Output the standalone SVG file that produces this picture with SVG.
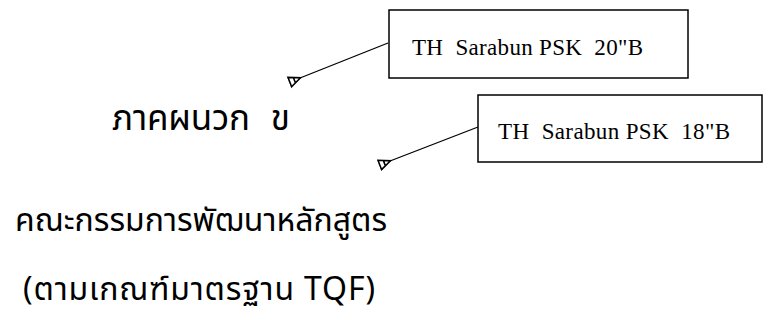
<svg xmlns="http://www.w3.org/2000/svg" width="783" height="324" viewBox="0 0 783 324">
<style>
.box{fill:#fff;stroke:#000;stroke-width:1.5}
.lbl{font-family:"Liberation Serif","Times New Roman",serif;fill:#000;font-size:23px;white-space:pre}
.th{font-family:"Noto Sans","Noto Sans Thai",sans-serif;fill:#000;font-size:32px}
.con{stroke:#000;stroke-width:1.3;fill:none}
</style>
<defs>
<marker id="ah" viewBox="0 0 14 14" refX="2" refY="7" markerWidth="14" markerHeight="14" markerUnits="userSpaceOnUse" orient="auto">
<path d="M13,2 L1.5,7 L13,12 Z M8,4 L8,10" fill="none" stroke="#000" stroke-width="1.6"/>
</marker>
</defs>
<rect width="783" height="324" fill="#fff"/>
<g id="connectors">
<line class="con" x1="388" y1="43" x2="300" y2="78" marker-end="url(#ah)"/>
<line class="con" x1="478" y1="127" x2="390" y2="161" marker-end="url(#ah)"/>
</g>
<g id="box20">
<rect class="box" x="389" y="10" width="299" height="68"/>
<text class="lbl" x="412" y="55" xml:space="preserve" textLength="231" lengthAdjust="spacing">TH  Sarabun PSK  20"B</text>
</g>
<g id="box18">
<rect class="box" x="478" y="95" width="284" height="67"/>
<text class="lbl" x="498" y="139" xml:space="preserve" textLength="232" lengthAdjust="spacing">TH  Sarabun PSK  18"B</text>
</g>
<g id="title">
<text class="th" x="112" y="130" style="font-size:35px;word-spacing:12px" textLength="178" lengthAdjust="spacing">ภาคผนวก ข</text>
</g>
<g id="line2">
<text class="th" x="15" y="231" textLength="372" lengthAdjust="spacing">คณะกรรมการพัฒนาหลักสูตร</text>
</g>
<g id="line3">
<text class="th" x="23" y="300" textLength="352" lengthAdjust="spacing">(ตามเกณฑ์มาตรฐาน TQF)</text>
</g>
</svg>
